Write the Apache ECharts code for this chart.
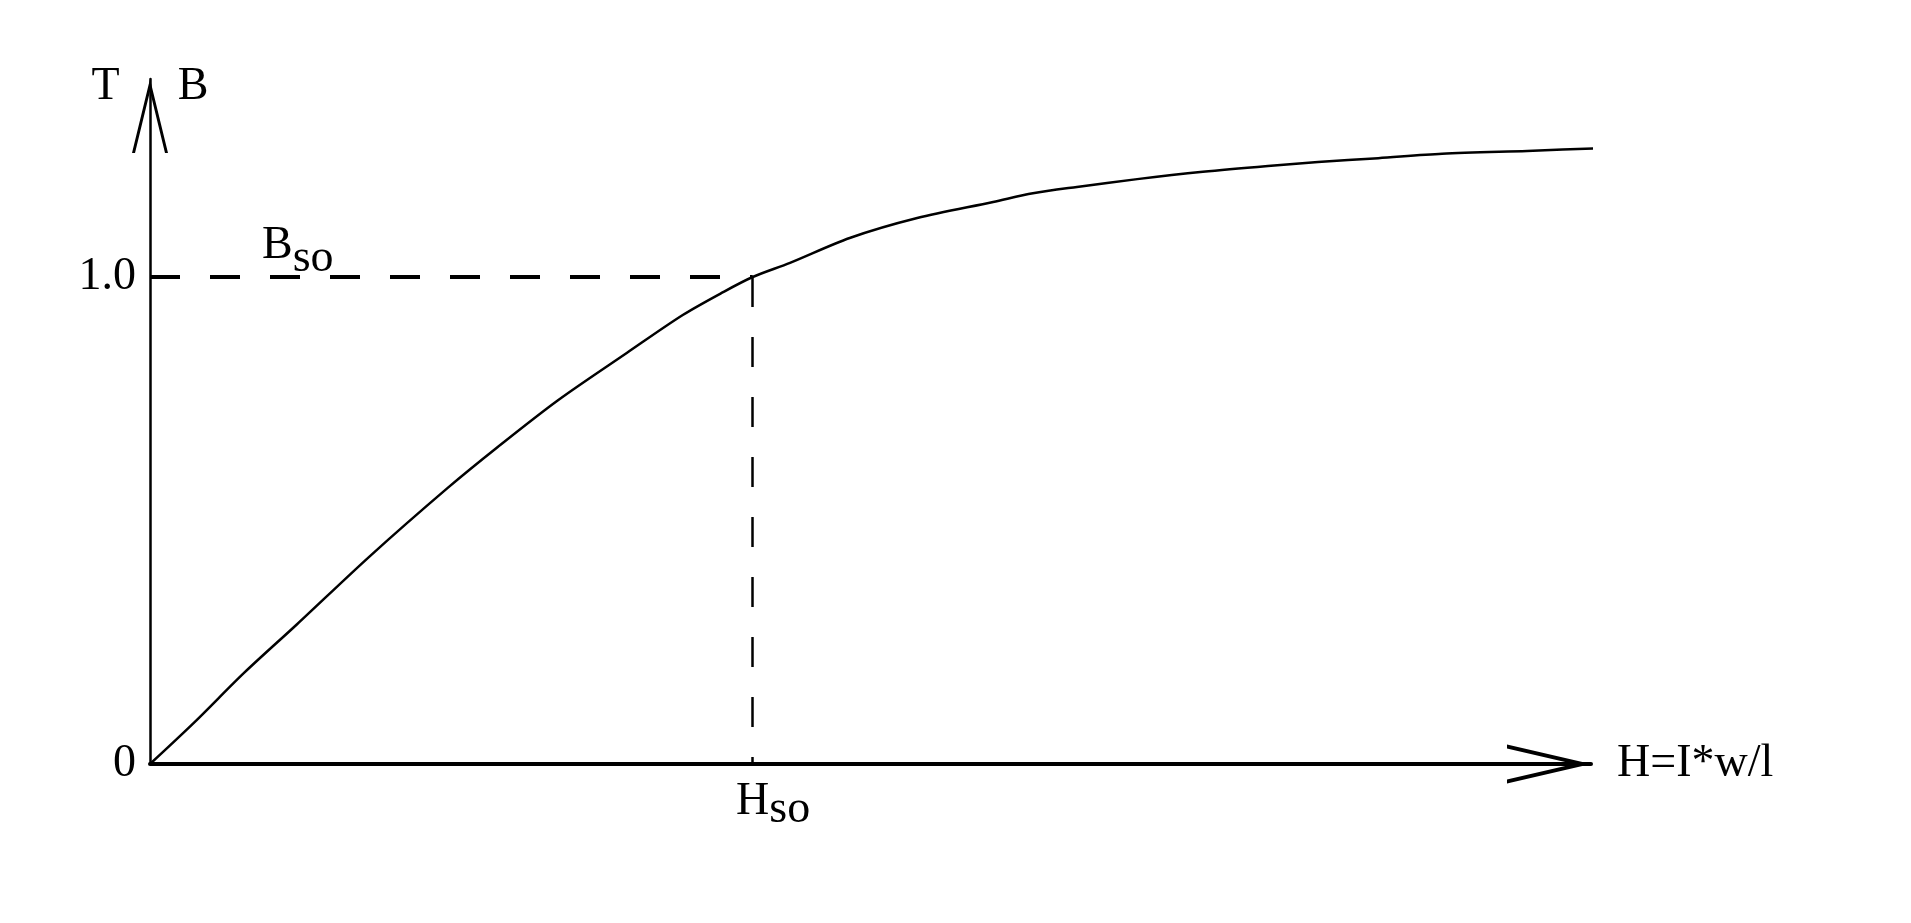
<!DOCTYPE html>
<html>
<head>
<meta charset="utf-8">
<script src="https://cdn.jsdelivr.net/npm/echarts@6/dist/echarts.min.js"></script>
<style>
html,body{margin:0;padding:0;background:#fff;}
#chart{width:1911px;height:923px;}
</style>
</head>
<body>
<div id="chart"></div>
<script>
// Magnetisation curve B(H), H in units of H_so, B in tesla
const curveH = [0, 0.074, 0.156, 0.244, 0.365, 0.494, 0.577, 0.677, 0.791, 0.884, 0.951, 1.0,
  1.062, 1.161, 1.273, 1.399, 1.465, 1.538, 1.638, 1.747, 1.855, 1.938, 2.038, 2.144, 2.285, 2.421];
const curveB = [0, 0.086, 0.187, 0.287, 0.427, 0.567, 0.651, 0.747, 0.844, 0.922, 0.969, 1.0,
  1.029, 1.080, 1.121, 1.154, 1.172, 1.185, 1.201, 1.216, 1.228, 1.236, 1.244, 1.253, 1.259, 1.265];

const yTickValues = [0, 1];
const yTickLabels = ['0', '1.0'];
const xTickValues = [1];
const xTickMain = 'H';
const xTickSub = 'so';
const refLabelMain = 'B';
const refLabelSub = 'so';
const satH = 1.0;
const satB = 1.0;
const xAxisMax = 2.391;
const yAxisMax = 1.4066;
const xAxisName = 'H=I*w/l';
const yAxisNameLeft = 'T';
const yAxisNameRight = 'B';

const FONT = '"Liberation Serif", "DejaVu Serif", serif';
const FS = 46;
const tok = (extra) => Object.assign({fontFamily: FONT, fontSize: FS, color: '#000', lineHeight: FS}, extra || {});

const points = curveH.map((h, i) => [h, curveB[i]]);

const chart = echarts.init(document.getElementById('chart'), null, {renderer: 'canvas'});
chart.setOption({
  animation: false,
  backgroundColor: '#fff',
  grid: {left: 150, right: 320, top: 79, bottom: 159, containLabel: false, outerBoundsMode: 'none'},
  xAxis: {
    type: 'value', min: 0, max: xAxisMax,
    name: xAxisName, nameLocation: 'end', nameGap: 26,
    nameTextStyle: {fontFamily: FONT, fontSize: FS, color: '#000'},
    axisLine: {
      show: true, onZero: true,
      lineStyle: {color: '#000', width: 4},
      symbol: ['none', 'path://M19.5 0 L39 84 L35 84 L19.5 17.2 L4 84 L0 84 Z'],
      symbolSize: [39, 84],
      symbolOffset: [0, -42]
    },
    axisTick: {show: false},
    splitLine: {show: false},
    axisLabel: {
      customValues: xTickValues,
      margin: 19,
      formatter: () => '{sp|}{m|' + xTickMain + '}{s|' + xTickSub + '}',
      rich: {
        sp: tok({width: 41, padding: [0, 0, 8, 0]}),
        m: tok({padding: [0, 0, 8, 0]}),
        s: tok({padding: [8, 0, 0, 0]})
      }
    }
  },
  yAxis: {
    type: 'value', min: 0, max: yAxisMax,
    name: '{t|' + yAxisNameLeft + '}{g|}{b|' + yAxisNameRight + '}',
    nameLocation: 'end', nameGap: -8,
    nameTextStyle: {
      verticalAlign: 'middle', align: 'center',
      rich: {t: tok(), g: tok({width: 58}), b: tok()}
    },
    axisLine: {
      show: true,
      lineStyle: {color: '#000', width: 2.5},
      symbol: ['none', 'path://M18 0 L36 74 L33 74 L18 12.3 L3 74 L0 74 Z'],
      symbolSize: [36, 74],
      symbolOffset: [0, -37]
    },
    axisTick: {show: false},
    splitLine: {show: false},
    axisLabel: {
      customValues: yTickValues,
      margin: 14,
      fontFamily: FONT, fontSize: FS, color: '#000',
      formatter: (v) => yTickLabels[yTickValues.indexOf(v)]
    }
  },
  series: [{
    type: 'line',
    data: points,
    clip: false,
    showSymbol: false,
    smooth: 0.3,
    lineStyle: {color: '#000', width: 2.5},
    markLine: {
      silent: true,
      symbol: ['none', 'none'],
      animation: false,
      data: [
        [
          {
            coord: [0, satB],
            lineStyle: {color: '#000', width: 4, type: [30, 30]},
            label: {
              show: true,
              position: 'insideStartTop',
              distance: [112, 2],
              formatter: () => '{m|' + refLabelMain + '}{s|' + refLabelSub + '}',
              rich: {
                m: tok({padding: [0, 0, 13, 0]}),
                s: tok({padding: [13, 0, 0, 0]})
              }
            }
          },
          {coord: [satH, satB]}
        ],
        [
          {
            coord: [satH, satB],
            lineStyle: {color: '#000', width: 2.5, type: [30, 30]},
            label: {show: false}
          },
          {coord: [satH, 0]}
        ]
      ]
    }
  }]
});
</script>
</body>
</html>
